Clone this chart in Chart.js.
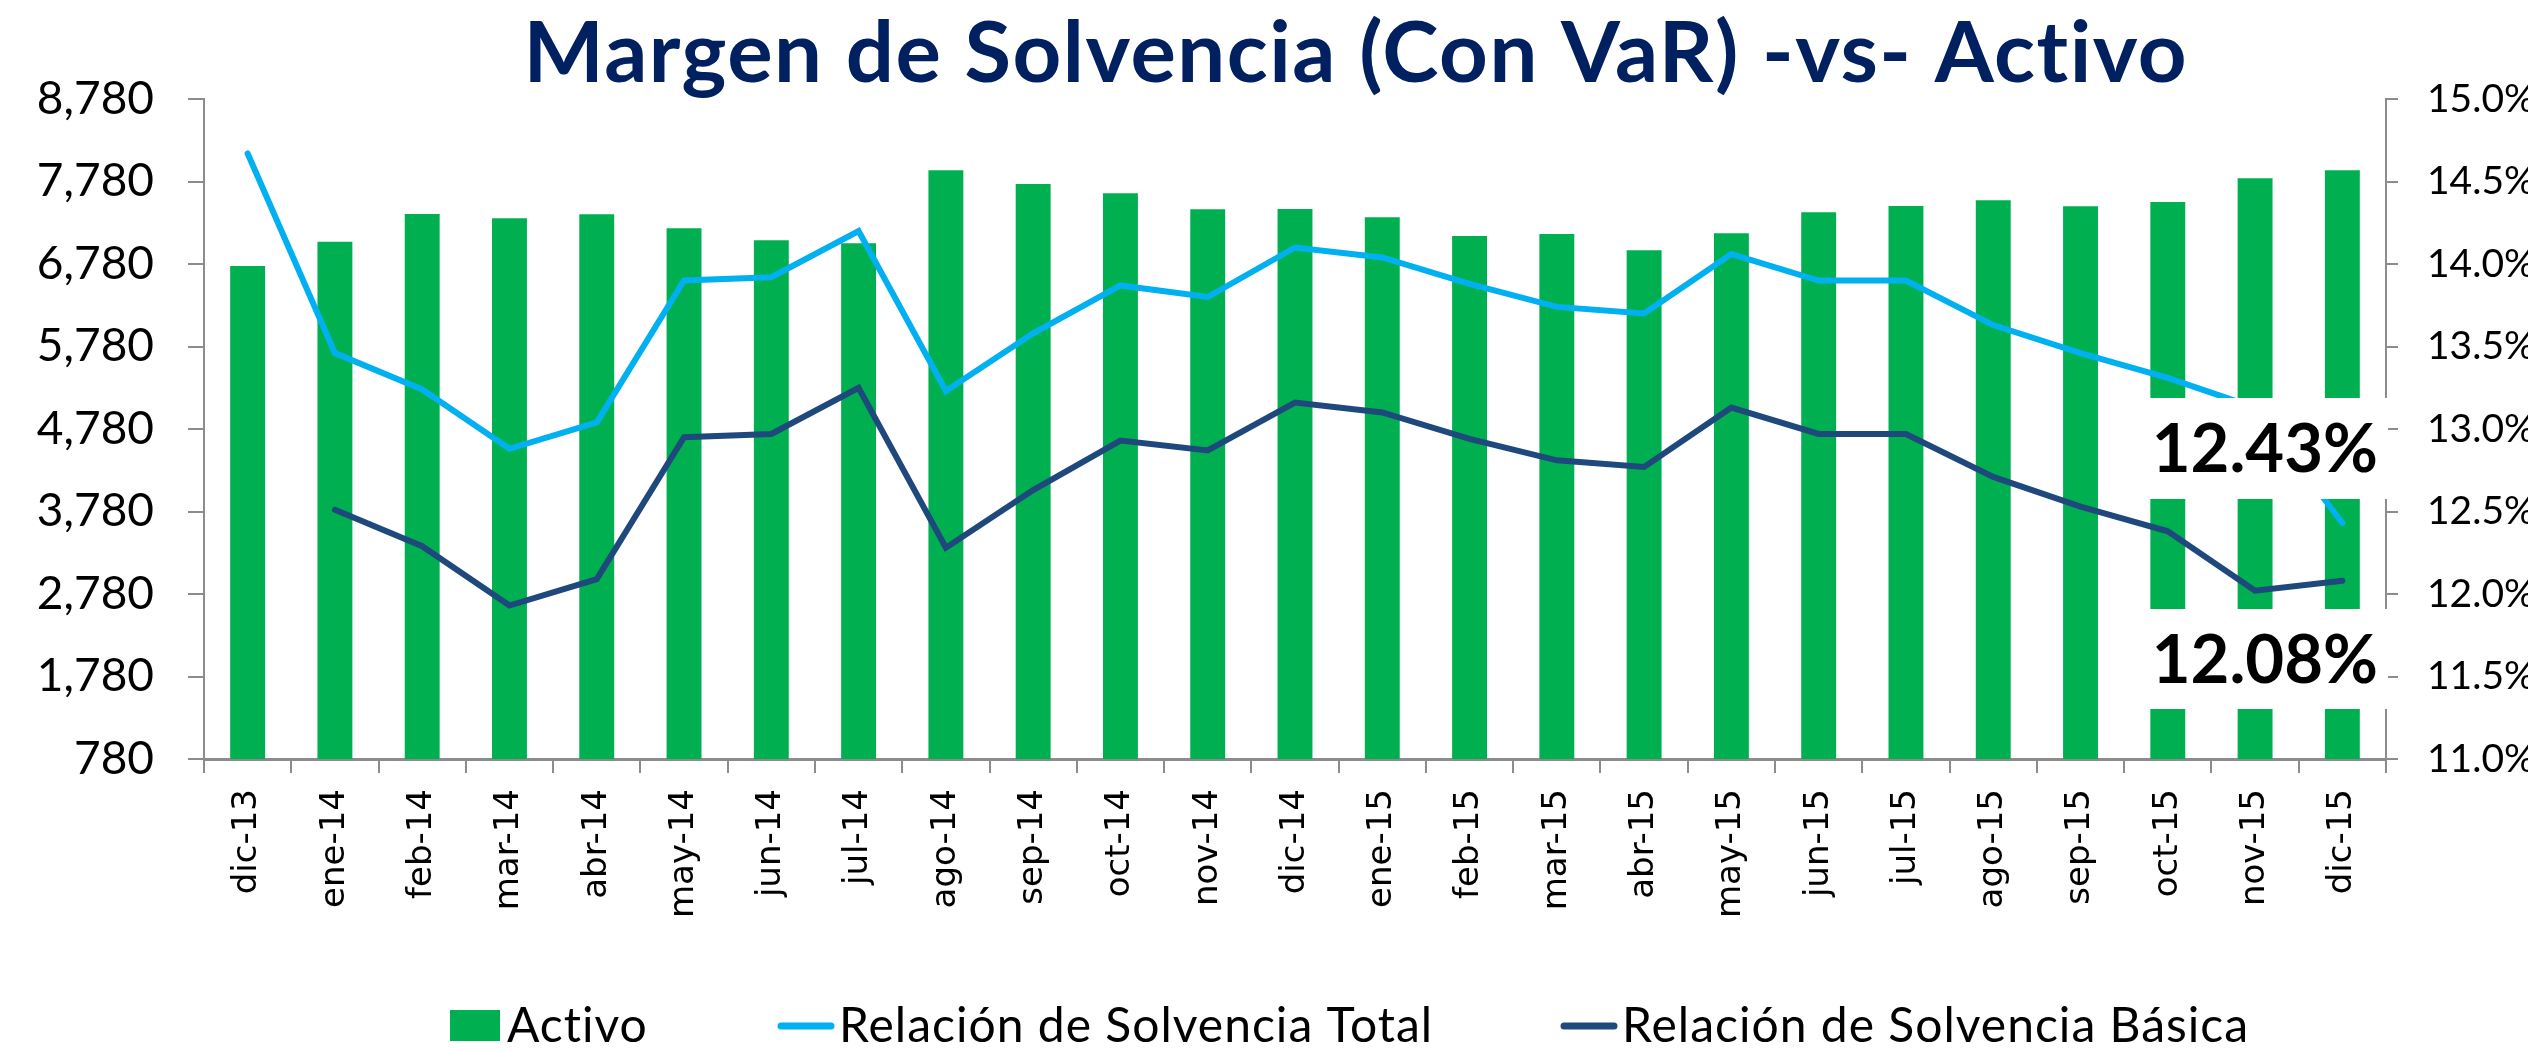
<!DOCTYPE html>
<html>
<head>
<meta charset="utf-8">
<script src="https://cdn.jsdelivr.net/npm/chart.js@4.4.1/dist/chart.umd.min.js"></script>
<style>
    html, body { margin:0; padding:0; background:#ffffff; }
    #wrap { width:2539px; height:1051px; position:relative; }
</style>
</head>
<body>
<div id="wrap"><canvas id="solvenciaChart"></canvas></div>
<script>

const meses = ['dic-13','ene-14','feb-14','mar-14','abr-14','may-14','jun-14','jul-14','ago-14','sep-14',
               'oct-14','nov-14','dic-14','ene-15','feb-15','mar-15','abr-15','may-15','jun-15','jul-15',
               'ago-15','sep-15','oct-15','nov-15','dic-15'];

const activo = [6756, 7051, 7386, 7334, 7383, 7213, 7067, 7031, 7916, 7750,
                7637, 7443, 7447, 7346, 7120, 7144, 6946, 7152, 7407, 7483,
                7552, 7479, 7532, 7819, 7916];

const solvenciaTotal = [14.67, 13.46, 13.24, 12.88, 13.04, 13.90, 13.92, 14.20, 13.23, 13.58,
                        13.87, 13.80, 14.10, 14.04, 13.88, 13.74, 13.70, 14.06, 13.90, 13.90,
                        13.63, 13.46, 13.31, 13.13, 12.43];

const solvenciaBasica = [null, 12.51, 12.29, 11.93, 12.09, 12.95, 12.97, 13.25, 12.28, 12.63,
                         12.93, 12.87, 13.16, 13.10, 12.94, 12.81, 12.77, 13.13, 12.97, 12.97,
                         12.71, 12.53, 12.38, 12.02, 12.08];

const ticksActivo   = [780, 1780, 2780, 3780, 4780, 5780, 6780, 7780, 8780];
const ticksRelacion = [11.0, 11.5, 12.0, 12.5, 13.0, 13.5, 14.0, 14.5, 15.0];

// recuadros blancos con el ultimo valor de cada relacion (en % del eje derecho)
const notas = [
    { texto: '12.43%', desde: 12.576, hasta: 13.188 },
    { texto: '12.08%', desde: 11.303, hasta: 11.909 }
];

const titulo = 'Margen de Solvencia (Con VaR) -vs- Activo';

const colorEje = '#8c8c8c';

// titulo (desplazado a la derecha como en el original)
const tituloPlugin = {
    id: 'tituloPlugin',
    afterDraw(chart) {
        const c = chart.ctx;
        c.save();
        c.font = 'bold 85px Lato';
        c.letterSpacing = '1.5px';
        c.fillStyle = '#002060';
        c.textAlign = 'center';
        c.textBaseline = 'alphabetic';
        c.fillText(titulo, chart.width * 0.534, 82);
        c.restore();
    }
};

// recuadros con el valor final
const notasPlugin = {
    id: 'notasPlugin',
    afterDatasetsDraw(chart) {
        const c = chart.ctx;
        const x = chart.scales.x;
        const y1 = chart.scales.y1;
        const left = x.getPixelForValue(21.7);
        const right = chart.chartArea.right + 2;
        c.save();
        notas.forEach(n => {
            const top = y1.getPixelForValue(n.hasta);
            const bottom = y1.getPixelForValue(n.desde);
            c.fillStyle = '#ffffff';
            c.fillRect(left, top, right - left, bottom - top);
            c.fillStyle = '#000000';
            c.font = 'bold 67px Lato';
            c.textAlign = 'center';
            c.textBaseline = 'middle';
            c.fillText(n.texto, (left + right) / 2, (top + bottom) / 2 + 2);
        });
        c.restore();
    }
};

// leyenda inferior
const leyendaPlugin = {
    id: 'leyendaPlugin',
    afterDraw(chart) {
        const c = chart.ctx;
        const marcas = [450, 778, 1561];
        const yc = 1026;
        c.save();
        c.font = '48px Lato';
        c.letterSpacing = '1px';
        c.textBaseline = 'alphabetic';
        c.textAlign = 'left';
        chart.data.datasets.forEach((ds, i) => {
            const x0 = marcas[i];
            if (ds.type === 'bar') {
                c.fillStyle = ds.backgroundColor;
                c.fillRect(x0, yc - 16, 50, 31);
                c.fillStyle = '#000';
                c.fillText(ds.label, x0 + 57, 1042);
            } else {
                c.strokeStyle = ds.borderColor;
                c.lineWidth = 7;
                c.lineCap = 'round';
                c.beginPath();
                c.moveTo(x0 + 3, yc);
                c.lineTo(x0 + 53, yc);
                c.stroke();
                c.fillStyle = '#000';
                c.fillText(ds.label, x0 + 61, 1042);
            }
        });
        c.restore();
    }
};

new Chart(document.getElementById('solvenciaChart'), {
    data: {
        labels: meses,
        datasets: [
            {
                type: 'bar',
                label: 'Activo',
                data: activo,
                yAxisID: 'y',
                backgroundColor: '#00B050',
                barPercentage: 0.4,
                categoryPercentage: 1.0,
                order: 3
            },
            {
                type: 'line',
                label: 'Relación de Solvencia Total',
                data: solvenciaTotal,
                yAxisID: 'y1',
                borderColor: '#00B0F0',
                borderWidth: 6,
                borderCapStyle: 'round',
                pointRadius: 0,
                tension: 0,
                order: 1
            },
            {
                type: 'line',
                label: 'Relación de Solvencia Básica',
                data: solvenciaBasica,
                yAxisID: 'y1',
                borderColor: '#1F497D',
                borderWidth: 6,
                borderCapStyle: 'round',
                pointRadius: 0,
                tension: 0,
                order: 2
            }
        ]
    },
    options: {
        responsive: true,
        maintainAspectRatio: false,
        animation: false,
        layout: {
            padding: { top: 99, left: 36, right: 11, bottom: 0 }
        },
        plugins: {
            legend: { display: false },
            title: { display: false },
            tooltip: { enabled: false }
        },
        scales: {
            x: {
                offset: true,
                afterFit: (s) => { s.height = 292; },
                grid: {
                    offset: true,
                    drawOnChartArea: false,
                    drawTicks: true,
                    tickLength: 14,
                    color: colorEje,
                    lineWidth: 2
                },
                border: { color: colorEje, width: 3 },
                ticks: {
                    autoSkip: false,
                    minRotation: 90,
                    maxRotation: 90,
                    padding: 16,
                    color: '#000',
                    font: { family: 'DejaVu Sans', size: 34, lineHeight: 1 }
                }
            },
            y: {
                position: 'left',
                min: 780,
                max: 8780,
                afterFit: (s) => { s.width = 168; },
                afterBuildTicks: (s) => { s.ticks = ticksActivo.map(v => ({ value: v })); },
                grid: {
                    drawOnChartArea: false,
                    tickLength: 16,
                    color: colorEje,
                    lineWidth: 2
                },
                border: { color: colorEje, width: 2 },
                ticks: {
                    padding: 34,
                    color: '#000',
                    font: { family: 'Lato', size: 46, lineHeight: 1 },
                    callback: (v) => v.toLocaleString('en-US')
                }
            },
            y1: {
                position: 'right',
                min: 11,
                max: 15,
                afterFit: (s) => { s.width = 142; },
                afterBuildTicks: (s) => { s.ticks = ticksRelacion.map(v => ({ value: v })); },
                grid: {
                    drawOnChartArea: false,
                    tickLength: 12,
                    color: colorEje,
                    lineWidth: 2
                },
                border: { color: colorEje, width: 2 },
                ticks: {
                    padding: 29,
                    color: '#000',
                    font: { family: 'Lato', size: 39, lineHeight: 1 },
                    callback: (v) => v.toFixed(1) + '%'
                }
            }
        }
    },
    plugins: [notasPlugin, tituloPlugin, leyendaPlugin]
});

</script>
</body>
</html>
